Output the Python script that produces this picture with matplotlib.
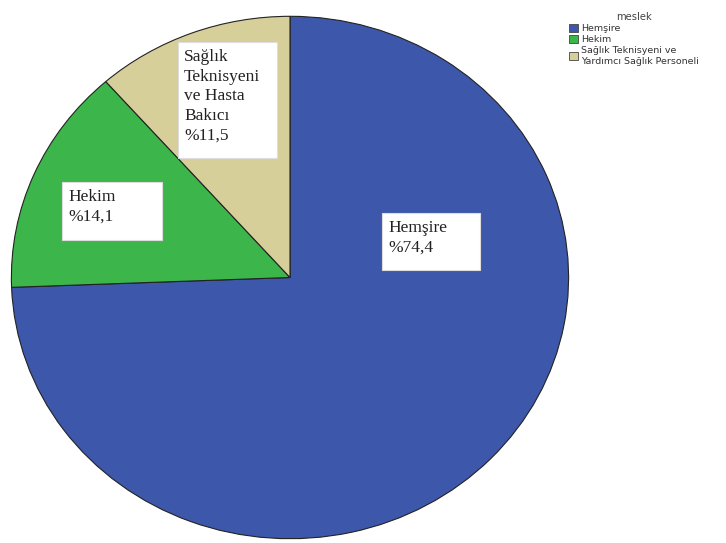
import matplotlib.pyplot as plt
from matplotlib.patches import Patch, Rectangle

# veri
meslekler = ["Hemşire", "Hekim", "Sağlık Teknisyeni ve\nYardımcı Sağlık Personeli"]
yuzdeler = [74.4, 14.1, 11.5]
etiketler = ["Hemşire\n%74,4", "Hekim\n%14,1", "Sağlık\nTeknisyeni\nve Hasta\nBakıcı\n%11,5"]
renkler = ["#3d57ab", "#3cb54a", "#d6cf9a"]

W, H = 726, 543
fig = plt.figure(figsize=(W / 100, H / 100), dpi=100)

# pasta biraz eliptik (SPSS çıktısı gibi)
ax = fig.add_axes([10 / W, 3 / H, 560 / W, 525 / H])
ax.pie(yuzdeler, colors=renkler, startangle=90, counterclock=False,
       wedgeprops=dict(edgecolor="#222222", linewidth=0.8))
ax.set_aspect("auto")
ax.set_xlim(-1.005, 1.005)
ax.set_ylim(-1.005, 1.005)

# etiket kutuları (piksel: sol, üst, genişlik, yükseklik)
kutular = [(382, 213, 98, 57), (62, 182, 100, 58), (178, 42, 99, 116)]
for (x, y, w, h), txt in zip(kutular, etiketler):
    fig.add_artist(Rectangle((x / W, 1 - (y + h) / H), w / W, h / H,
                             transform=fig.transFigure, facecolor="white",
                             edgecolor="#dddddd", linewidth=0.8))
    fig.text((x + 6) / W, 1 - (y + 7) / H, txt, ha="left", va="top",
             family="Liberation Serif", fontsize=12.5, color="#222222",
             linespacing=1.3)

# lejant
tutamaclar = [Patch(facecolor=c, edgecolor="#444444", linewidth=0.6) for c in renkler]
leg = fig.legend(tutamaclar, meslekler, loc="upper left",
                 bbox_to_anchor=(562 / W, 1 - 5 / H), frameon=False,
                 title="meslek", fontsize=6.8, title_fontsize=7.2,
                 handlelength=1.0, handleheight=1.0, handletextpad=0.3,
                 labelspacing=0.2, borderpad=0.2)
for t in leg.get_texts():
    t.set_color("#333333")
leg.get_title().set_color("#444444")

fig.savefig("out.png", dpi=100)
